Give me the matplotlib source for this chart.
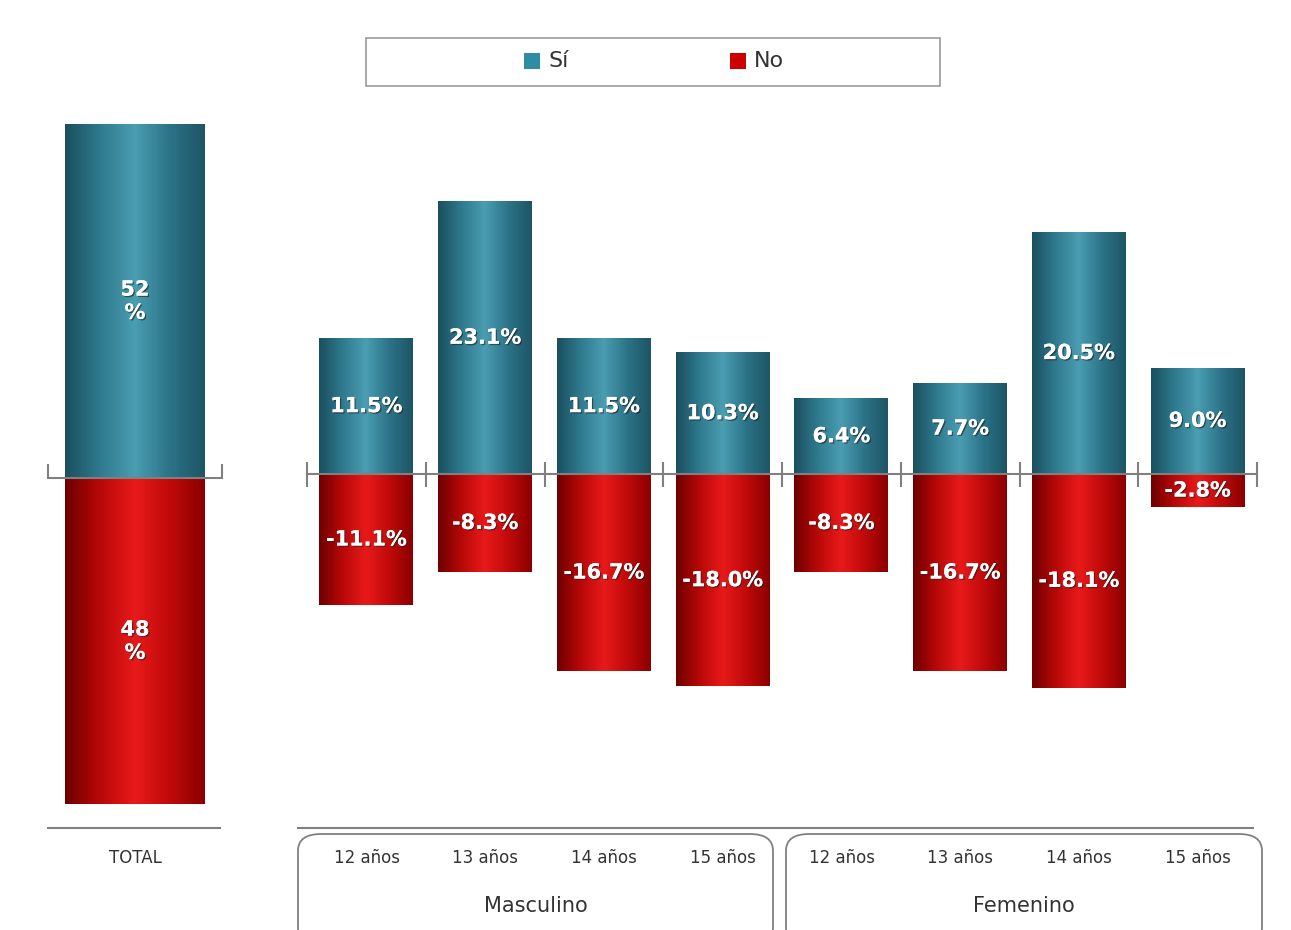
import matplotlib
matplotlib.use("Agg")
import matplotlib.pyplot as plt
import numpy as np
from matplotlib.colors import LinearSegmentedColormap
from matplotlib.patches import FancyBboxPatch, Rectangle
from matplotlib.lines import Line2D
import matplotlib.patheffects as pe

# data
total_label = "TOTAL"
total_si = 52
total_no = -48
ages = ["12 años", "13 años", "14 años", "15 años", "12 años", "13 años", "14 años", "15 años"]
groups = ["Masculino", "Femenino"]
si = [11.5, 23.1, 11.5, 10.3, 6.4, 7.7, 20.5, 9.0]
no = [-11.1, -8.3, -16.7, -18.0, -8.3, -16.7, -18.1, -2.8]

TEAL = LinearSegmentedColormap.from_list("teal", ["#1a4f5e", "#2f7a8e", "#4a9db2", "#2c7387", "#1d5565"])
RED = LinearSegmentedColormap.from_list("red", ["#6e0000", "#b80808", "#e81a1a", "#c00a0a", "#8a0000"])
GRAD = np.linspace(0, 1, 256).reshape(1, -1)
W, H = 1291, 930


def fx(px):
  return px / W


def fy(py):
  return 1 - py / H


def gradient_bars(ax, x, heights, width, cmap):
  bars = ax.bar(x, heights, width=width, color="none", edgecolor="none", zorder=2)
  for b in bars:
    x0, y0 = b.get_x(), b.get_y()
    x1, y1 = x0 + b.get_width(), y0 + b.get_height()
    im = ax.imshow(GRAD, cmap=cmap, extent=[x0, x1, min(y0, y1), max(y0, y1)],
                   aspect="auto", zorder=2, interpolation="bicubic")
    im.set_clip_path(b)
  return bars


def bar_label(ax, x, v, txt, fs=15):
  ax.text(x, v / 2, txt, ha="center", va="center", color="white", fontsize=fs,
          fontweight="bold", zorder=5,
          path_effects=[pe.withSimplePatchShadow(offset=(1, -1), shadow_rgbFace="#222", alpha=0.6), pe.Normal()])


fig = plt.figure(figsize=(W / 100, H / 100), dpi=100)
fig.patch.set_facecolor("white")

# left panel: total (zero line at y=478 px, ~6.8 px per %)
axl = fig.add_axes([fx(48), fy(478 + 48 * 6.8), fx(222) - fx(48), 100 * 6.8 / H])
gradient_bars(axl, [0], [total_si], 0.8, TEAL)
gradient_bars(axl, [0], [total_no], 0.8, RED)
axl.set_xlim(-0.5, 0.5)
axl.set_ylim(total_no, total_si)
bar_label(axl, 0, total_si, f"{total_si}\n%", fs=15)
bar_label(axl, 0, total_no, f"{-total_no}\n%", fs=15)

# right panel: by age and sex
axr = fig.add_axes([fx(307), fy(710), fx(1257) - fx(307), fy(179) - fy(710)])
x = np.arange(len(ages))
gradient_bars(axr, x, si, 0.79, TEAL)
gradient_bars(axr, x, no, 0.79, RED)
axr.set_xlim(-0.5, len(ages) - 0.5)
axr.set_ylim(-20, 25)
for i in range(len(ages)):
  bar_label(axr, i, si[i], f"{si[i]:.1f}%")
  bar_label(axr, i, no[i], f"{no[i]:.1f}%")

for ax in (axl, axr):
  ax.patch.set_alpha(0)
  for s in ("top", "right", "left"):
    ax.spines[s].set_visible(False)
  ax.spines["bottom"].set_position(("data", 0))
  ax.spines["bottom"].set_color("#808080")
  ax.spines["bottom"].set_linewidth(1.5)
  ax.spines["bottom"].set_zorder(3)
  ax.set_yticks([])
  ax.tick_params(axis="x", colors="#808080", width=1.5, labelbottom=False)

axl.set_xticks([-0.5, 0.5])
axl.tick_params(axis="x", direction="in", length=10)
axr.set_xticks(np.arange(-0.5, len(ages), 1.0))
axr.tick_params(axis="x", direction="inout", length=18)

# bottom axis lines
fig.add_artist(Line2D([fx(48), fx(220)], [fy(828), fy(828)], color="#808080", lw=1.5))
fig.add_artist(Line2D([fx(298), fx(1253)], [fy(828), fy(828)], color="#808080", lw=1.5))

# category labels
fig.text(fx(135), fy(858), total_label, ha="center", va="center", fontsize=12, color="#333")
centers = [367, 485, 604, 723, 842, 960, 1079, 1198]
for cx, lab in zip(centers, ages):
  fig.text(fx(cx), fy(858), lab, ha="center", va="center", fontsize=12, color="#333")

# group boxes
for (x0, x1), g in zip([(298, 773), (786, 1262)], groups):
  fig.add_artist(FancyBboxPatch((fx(x0), fy(945)), fx(x1 - x0), (945 - 834) / H,
                                boxstyle="round,pad=0,rounding_size=0.018",
                                transform=fig.transFigure, fc="none", ec="#808080", lw=1.3))
  fig.text(fx((x0 + x1) / 2), fy(906), g, ha="center", va="center", fontsize=15, color="#333")

# legend
fig.add_artist(Rectangle((fx(366), fy(86)), fx(940 - 366), (86 - 38) / H,
                         transform=fig.transFigure, fc="white", ec="#999", lw=1.2))
fig.add_artist(Rectangle((fx(524), fy(69)), fx(16), 16 / H, transform=fig.transFigure,
                         fc="#2f8ca5", ec="none"))
fig.text(fx(548), fy(61), "Sí", ha="left", va="center", fontsize=16, color="#333")
fig.add_artist(Rectangle((fx(730), fy(69)), fx(16), 16 / H, transform=fig.transFigure,
                         fc="#cc0000", ec="none"))
fig.text(fx(754), fy(61), "No", ha="left", va="center", fontsize=16, color="#333")

fig.savefig("out.png", dpi=100)
